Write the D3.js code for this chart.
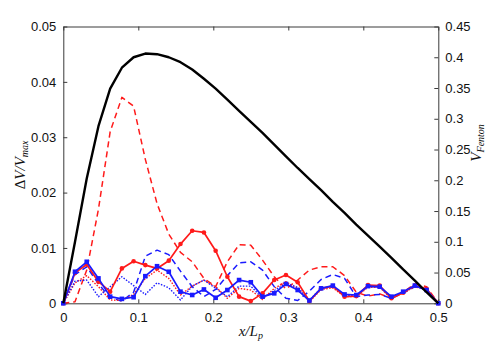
<!DOCTYPE html>
<html><head><meta charset="utf-8">
<script src="https://cdn.jsdelivr.net/npm/d3@7"></script>
<style>body{margin:0;background:#fff}svg{display:block}</style>
</head><body><svg id="c" width="491" height="344"></svg>
<script>
const xTicks = [0, 0.1, 0.2, 0.3, 0.4, 0.5];
const yLeftTicks = [0, 0.01, 0.02, 0.03, 0.04, 0.05];
const yRightTicks = [0, 0.05, 0.1, 0.15, 0.2, 0.25, 0.3, 0.35, 0.4, 0.45];
const nPts = 33; // x = i/64
const xs = d3.range(nPts).map(i => i / 64);
// V_Fenton (right axis)
const fenton = [0,0.10,0.203,0.288,0.349,0.383,0.400,0.406,0.405,0.400,0.392,0.380,0.365,0.349,0.331,0.313,0.295,0.277,0.258,0.239,0.220,0.202,0.184,0.165,0.147,0.128,0.110,0.092,0.074,0.055,0.037,0.018,0];
// Delta V / V_max (left axis)
const redSolid = [0,0.0055,0.0070,0.0039,0.0021,0.0063,0.0076,0.0069,0.0063,0.0077,0.0107,0.0131,0.0128,0.0095,0.0048,0.0012,0.0004,0.0018,0.0042,0.0051,0.0038,0.0004,0.0027,0.0031,0.0012,0.0013,0.0033,0.0032,0.0009,0.0019,0.0032,0.0026,0];
const blueSolid = [0,0.0057,0.0075,0.0045,0.0012,0.0008,0.0011,0.0049,0.0067,0.0057,0.0021,0.0015,0.0025,0.0010,0.0024,0.0042,0.0038,0.0012,0.0018,0.0035,0.0024,0.0005,0.0027,0.0032,0.0016,0.0015,0.0031,0.0030,0.0012,0.0021,0.0032,0.0024,0];
const redDashed = [0,0.0003,0.0060,0.0170,0.0310,0.0372,0.0356,0.0260,0.0180,0.0125,0.0092,0.0075,0.0045,0.0030,0.0075,0.0106,0.0105,0.0078,0.0048,0.0026,0.0042,0.0060,0.0066,0.0066,0.0050,0.0020,0.0013,0.0017,0.0009,0.0020,0.0035,0.0030,0];
const blueDashed = [0,0.0052,0.0066,0.0035,0.0010,0.0004,0.0020,0.0085,0.0096,0.0088,0.0058,0.0030,0.0012,0.0025,0.0050,0.0073,0.0075,0.0060,0.0030,0.0009,0.0005,0.0022,0.0043,0.0052,0.0045,0.0012,0.0015,0.0016,0.0009,0.0018,0.0030,0.0025,0];
const redDotted = [0,0.0037,0.0050,0.0030,0.0006,0.0005,0.0016,0.0045,0.0060,0.0045,0.0015,0.0031,0.0042,0.0030,0.0009,0.0027,0.0024,0.0007,0.0027,0.0039,0.0027,0.0003,0.0025,0.0028,0.0012,0.0012,0.0029,0.0029,0.0008,0.0019,0.0030,0.0025,0];
const blueDotted = [0,0.0040,0.0042,0.0012,0.0030,0.0048,0.0032,0.0016,0.0037,0.0028,0.0006,0.0031,0.0042,0.0027,0.0012,0.0031,0.0031,0.0009,0.0023,0.0036,0.0029,0.0006,0.0027,0.0030,0.0014,0.0014,0.0030,0.0029,0.0010,0.0020,0.0031,0.0024,0];

const L = 63.3, R = 438.3, T = 26.5, B = 303.3;
const svg = d3.select('#c');
const x = d3.scaleLinear().domain([0, 0.5]).range([L, R]);
const yL = d3.scaleLinear().domain([0, 0.05]).range([B, T]);
const yR = d3.scaleLinear().domain([0, 0.45]).range([B, T]);
const axisCol = '#3a3a3a';
const font = 'Liberation Sans, Arial, Helvetica, sans-serif';

const fmt = d => d === 0 ? '0' : String(d);
function styleAxis(g){
  g.select('.domain').attr('stroke', axisCol).attr('stroke-width', 1);
  g.selectAll('.tick line').attr('stroke', axisCol);
  g.selectAll('text').attr('font-family', font).attr('font-size', 13).attr('fill', '#111');
}
svg.append('g').attr('transform', `translate(0,${B})`)
  .call(d3.axisBottom(x).tickValues(xTicks).tickFormat(fmt).tickSizeInner(-4).tickSizeOuter(0).tickPadding(9))
  .call(styleAxis);
svg.append('g').attr('transform', `translate(0,${T})`)
  .call(d3.axisTop(x).tickValues(xTicks).tickFormat('').tickSizeInner(-4).tickSizeOuter(0))
  .call(styleAxis);
svg.append('g').attr('transform', `translate(${L},0)`)
  .call(d3.axisLeft(yL).tickValues(yLeftTicks).tickFormat(fmt).tickSizeInner(-4).tickSizeOuter(0).tickPadding(7))
  .call(styleAxis);
svg.append('g').attr('transform', `translate(${R},0)`)
  .call(d3.axisRight(yR).tickValues(yRightTicks).tickFormat(fmt).tickSizeInner(-4).tickSizeOuter(0).tickPadding(7))
  .call(styleAxis);

const plot = svg.append('g');

function drawLine(data, yScale, color, width, dash){
  const line = d3.line().x((d,i) => x(xs[i])).y(d => yScale(d));
  plot.append('path').datum(data).attr('d', line).attr('fill','none')
    .attr('stroke', color).attr('stroke-width', width)
    .attr('stroke-dasharray', dash || null).attr('stroke-linejoin','round');
}
const RED = '#ff1a1a', BLUE = '#1a1aff';
drawLine(redDashed, yL, RED, 1.5, '6,4');
drawLine(blueDashed, yL, BLUE, 1.5, '6,4');
drawLine(redDotted, yL, RED, 1.4, '1.5,1.5');
drawLine(blueDotted, yL, BLUE, 1.4, '1.5,1.5');
drawLine(redSolid, yL, RED, 1.7);
plot.append('g').selectAll('circle').data(redSolid).join('circle')
  .attr('cx', (d,i) => x(xs[i])).attr('cy', d => yL(d)).attr('r', 2.3).attr('fill', RED);
drawLine(blueSolid, yL, BLUE, 1.7);
plot.append('g').selectAll('rect').data(blueSolid).join('rect')
  .attr('x', (d,i) => x(xs[i]) - 2.3).attr('y', d => yL(d) - 2.3).attr('width', 4.6).attr('height', 4.6).attr('fill', BLUE);
drawLine(fenton, yR, '#000', 2.4);

// axis labels
const serif = 'Liberation Serif, Times New Roman, serif';
const yl = svg.append('text').attr('transform', `translate(25,${(T+B)/2}) rotate(-90)`)
  .attr('text-anchor','middle').attr('font-family', serif).attr('font-size', 15).attr('font-style','italic').attr('fill','#111');
yl.append('tspan').attr('font-style','normal').text('Δ');
yl.append('tspan').text('V/V');
yl.append('tspan').attr('font-size', 10).attr('dy', 3).text('max');

const yr = svg.append('text').attr('transform', `translate(481,${(T+B)/2 - 22}) rotate(-90)`)
  .attr('text-anchor','middle').attr('font-family', serif).attr('font-size', 15).attr('font-style','italic').attr('fill','#111');
yr.append('tspan').text('V');
yr.append('tspan').attr('font-size', 10).attr('dy', 3).text('Fenton');

const xl = svg.append('text').attr('x', (L+R)/2).attr('y', 336)
  .attr('text-anchor','middle').attr('font-family', serif).attr('font-size', 15).attr('font-style','italic').attr('fill','#111');
xl.append('tspan').text('x/L');
xl.append('tspan').attr('font-size', 10).attr('dy', 3).text('p');
</script></body></html>
